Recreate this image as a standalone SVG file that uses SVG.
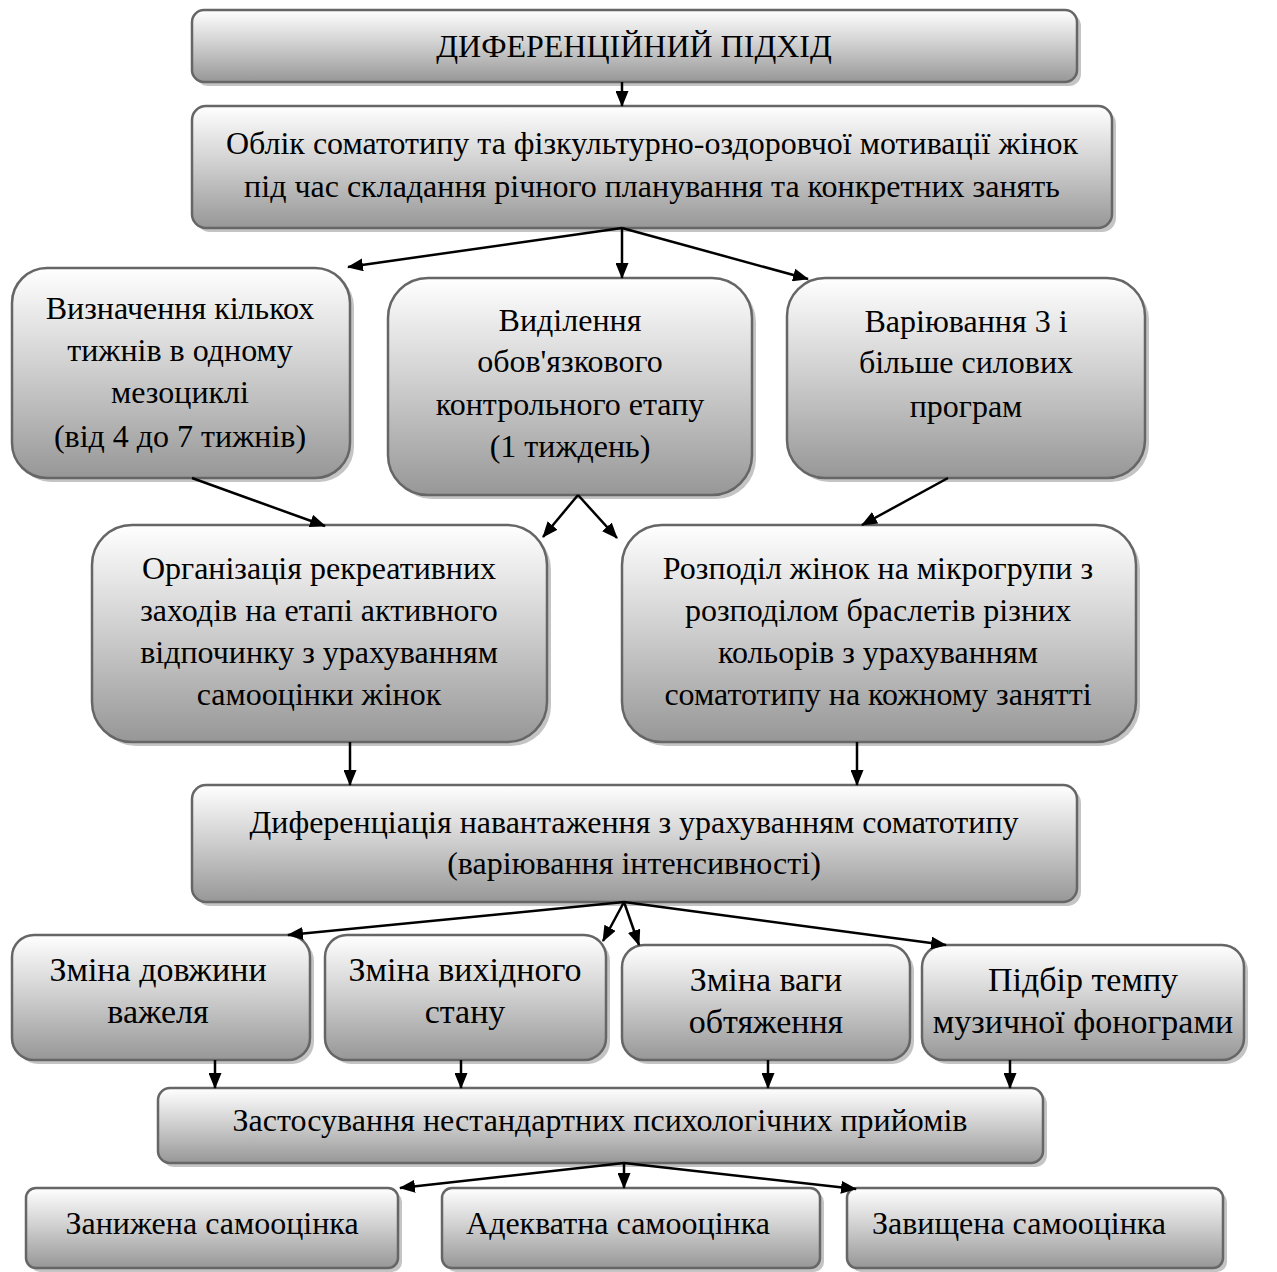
<svg xmlns="http://www.w3.org/2000/svg" width="1277" height="1272" viewBox="0 0 1277 1272">
<defs>
<linearGradient id="g" x1="0" y1="0" x2="0" y2="1">
<stop offset="0" stop-color="#ffffff"/>
<stop offset="0.45" stop-color="#d2d2d2"/>
<stop offset="1" stop-color="#979797"/>
</linearGradient>
<marker id="ah" viewBox="0 0 16 13" refX="15" refY="6.5" markerWidth="16" markerHeight="13" markerUnits="userSpaceOnUse" orient="auto">
<path d="M0,0 L16,6.5 L0,13 Z" fill="#000"/>
</marker>
</defs>
<style>
.sh{fill:#c4c4c4;stroke:none}
.bx{fill:url(#g);stroke:#666;stroke-width:2.5}
.cn line{stroke:#000;stroke-width:2.5;marker-end:url(#ah)}
.big{font-size:34px}
</style>
<rect width="1277" height="1272" fill="#fff"/>
<g font-family="Liberation Serif, DejaVu Serif, Times New Roman, serif" font-size="32" text-anchor="middle" fill="#000">

<g id="n1"><rect class="sh" x="196" y="14" width="885" height="72" rx="12"/><rect class="bx" x="192" y="10" width="885" height="72" rx="12"/><text x="634" y="57">ДИФЕРЕНЦІЙНИЙ ПІДХІД</text></g>

<g id="n2"><rect class="sh" x="196" y="110" width="920" height="122" rx="14"/><rect class="bx" x="192" y="106" width="920" height="122" rx="14"/><text x="652" y="154">Облік соматотипу та фізкультурно-оздоровчої мотивації жінок</text><text x="652" y="197">під час складання річного планування та конкретних занять</text></g>

<g id="n3"><rect class="sh" x="16" y="272" width="338" height="210" rx="35"/><rect class="bx" x="12" y="268" width="338" height="210" rx="35"/><text x="180" y="319">Визначення кількох</text><text x="180" y="361">тижнів в одному</text><text x="180" y="403">мезоциклі</text><text x="180" y="447">(від 4 до 7 тижнів)</text></g>

<g id="n4"><rect class="sh" x="392" y="282" width="364" height="217" rx="40"/><rect class="bx" x="388" y="278" width="364" height="217" rx="40"/><text x="570" y="331">Виділення</text><text x="570" y="372">обов'язкового</text><text x="570" y="415">контрольного етапу</text><text x="570" y="457">(1 тиждень)</text></g>

<g id="n5"><rect class="sh" x="791" y="282" width="358" height="200" rx="38"/><rect class="bx" x="787" y="278" width="358" height="200" rx="38"/><text x="966" y="332">Варіювання 3 і</text><text x="966" y="373">більше силових</text><text x="966" y="417">програм</text></g>

<g id="n6"><rect class="sh" x="96" y="529" width="455" height="217" rx="40"/><rect class="bx" x="92" y="525" width="455" height="217" rx="40"/><text x="319" y="579">Організація рекреативних</text><text x="319" y="621">заходів на етапі активного</text><text x="319" y="663">відпочинку з урахуванням</text><text x="319" y="705">самооцінки жінок</text></g>

<g id="n7"><rect class="sh" x="626" y="529" width="514" height="217" rx="40"/><rect class="bx" x="622" y="525" width="514" height="217" rx="40"/><text x="878" y="579">Розподіл жінок на мікрогрупи з</text><text x="878" y="621">розподілом браслетів різних</text><text x="878" y="663">кольорів з урахуванням</text><text x="878" y="705">соматотипу на кожному занятті</text></g>

<g id="n8"><rect class="sh" x="196" y="789" width="885" height="117" rx="14"/><rect class="bx" x="192" y="785" width="885" height="117" rx="14"/><text x="634" y="833">Диференціація навантаження з урахуванням соматотипу</text><text x="634" y="874">(варіювання інтенсивності)</text></g>

<g id="n9"><rect class="sh" x="16" y="939" width="298" height="125" rx="22"/><rect class="bx" x="12" y="935" width="298" height="125" rx="22"/><text class="big" x="158" y="981">Зміна довжини</text><text class="big" x="158" y="1023">важеля</text></g>

<g id="n10"><rect class="sh" x="329" y="939" width="281" height="125" rx="22"/><rect class="bx" x="325" y="935" width="281" height="125" rx="22"/><text class="big" x="465" y="981">Зміна вихідного</text><text class="big" x="465" y="1023">стану</text></g>

<g id="n11"><rect class="sh" x="626" y="949" width="288" height="115" rx="22"/><rect class="bx" x="622" y="945" width="288" height="115" rx="22"/><text class="big" x="766" y="991">Зміна ваги</text><text class="big" x="766" y="1033">обтяження</text></g>

<g id="n12"><rect class="sh" x="926" y="949" width="322" height="115" rx="22"/><rect class="bx" x="922" y="945" width="322" height="115" rx="22"/><text class="big" x="1083" y="991">Підбір темпу</text><text class="big" x="1083" y="1033">музичної фонограми</text></g>

<g id="n13"><rect class="sh" x="162" y="1092" width="885" height="75" rx="12"/><rect class="bx" x="158" y="1088" width="885" height="75" rx="12"/><text x="600" y="1131">Застосування нестандартних психологічних прийомів</text></g>

<g id="n14"><rect class="sh" x="30" y="1192" width="372" height="80" rx="10"/><rect class="bx" x="26" y="1188" width="372" height="80" rx="10"/><text x="212" y="1234">Занижена самооцінка</text></g>

<g id="n15"><rect class="sh" x="446" y="1192" width="378" height="80" rx="10"/><rect class="bx" x="442" y="1188" width="378" height="80" rx="10"/><text x="618" y="1234">Адекватна самооцінка</text></g>

<g id="n16"><rect class="sh" x="851" y="1192" width="376" height="80" rx="10"/><rect class="bx" x="847" y="1188" width="376" height="80" rx="10"/><text x="1019" y="1234">Завищена самооцінка</text></g>
</g>

<g id="connectors" class="cn">
<line x1="622" y1="82" x2="622" y2="106"/>
<line x1="622" y1="228" x2="348" y2="267"/>
<line x1="622" y1="228" x2="622" y2="278"/>
<line x1="622" y1="228" x2="808" y2="279"/>
<line x1="192" y1="478" x2="325" y2="526"/>
<line x1="578" y1="495" x2="543" y2="537"/>
<line x1="578" y1="495" x2="617" y2="538"/>
<line x1="948" y1="478" x2="862" y2="525"/>
<line x1="350" y1="742" x2="350" y2="785"/>
<line x1="857" y1="742" x2="857" y2="785"/>
<line x1="624" y1="902" x2="288" y2="935"/>
<line x1="624" y1="902" x2="603" y2="941"/>
<line x1="624" y1="902" x2="639" y2="945"/>
<line x1="624" y1="902" x2="946" y2="945"/>
<line x1="215" y1="1060" x2="215" y2="1088"/>
<line x1="461" y1="1060" x2="461" y2="1088"/>
<line x1="768" y1="1060" x2="768" y2="1088"/>
<line x1="1010" y1="1060" x2="1010" y2="1088"/>
<line x1="624" y1="1163" x2="400" y2="1188"/>
<line x1="624" y1="1163" x2="624" y2="1188"/>
<line x1="624" y1="1163" x2="856" y2="1189"/>
</g>
</svg>
